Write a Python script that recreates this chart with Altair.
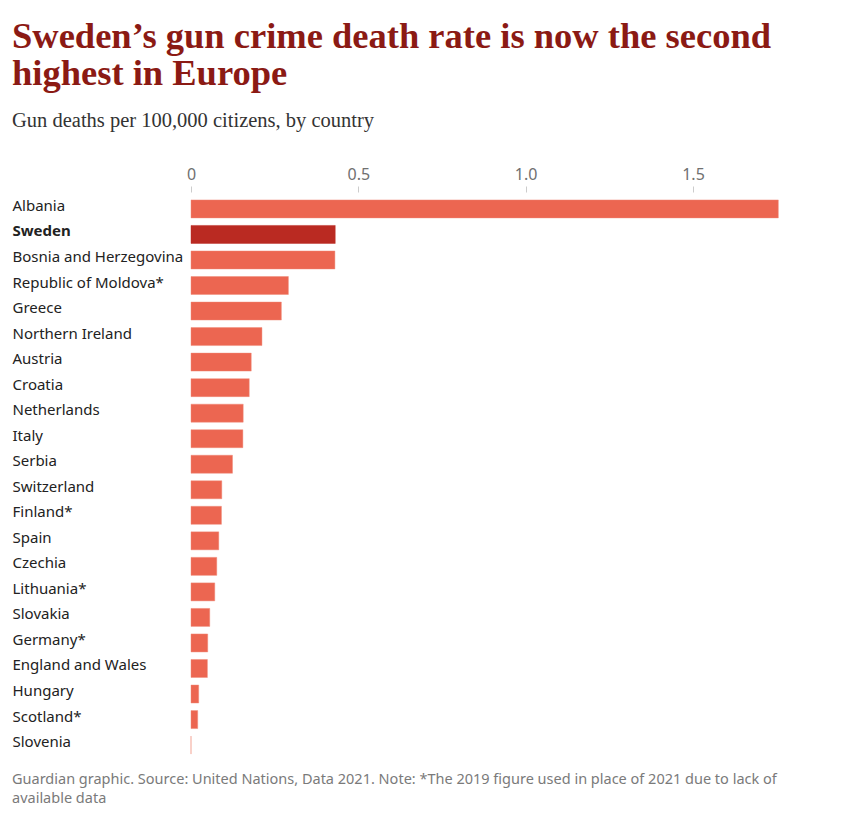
import altair as alt
import pandas as pd

countries = [
    "Albania", "Sweden", "Bosnia and Herzegovina", "Republic of Moldova*", "Greece",
    "Northern Ireland", "Austria", "Croatia", "Netherlands", "Italy", "Serbia",
    "Switzerland", "Finland*", "Spain", "Czechia", "Lithuania*", "Slovakia",
    "Germany*", "England and Wales", "Hungary", "Scotland*", "Slovenia",
]
rates = [
    1.755, 0.431, 0.430, 0.291, 0.270,
    0.212, 0.180, 0.174, 0.156, 0.155, 0.124,
    0.092, 0.091, 0.083, 0.077, 0.071, 0.056,
    0.050, 0.049, 0.023, 0.020, 0.0,
]
x_ticks = [0, 0.5, 1.0, 1.5]
highlight = "Sweden"

title_lines = ["Sweden\u2019s gun crime death rate is now the second", "highest in Europe"]
subtitle = "Gun deaths per 100,000 citizens, by country"
footer_lines = [
    "Guardian graphic. Source: United Nations, Data 2021. Note: *The 2019 figure used in place of 2021 due to lack of",
    "available data",
]

df = pd.DataFrame({"country": countries, "rate": rates})
foot_df = pd.DataFrame({"k": [0]})

W, H = 589, 570

bars = alt.Chart(df).mark_bar(strokeWidth=1, strokeOpacity=0.45).encode(
    y=alt.Y(
        "country:N",
        sort=countries,
        title=None,
        scale=alt.Scale(paddingInner=0.295, paddingOuter=0.31),
        axis=alt.Axis(
            orient="left",
            ticks=False,
            tickSize=0,
            domain=False,
            labelAlign="left",
            labelPadding=179,
            labelOffset=-3,
            labelFont="Noto Sans",
            labelFontSize=15,
            labelColor="#222222",
            labelFontWeight=alt.expr("datum.value == 'Sweden' ? 'bold' : 'normal'"),
            labelLimit=400,
        ),
    ),
    x=alt.X(
        "rate:Q",
        title=None,
        scale=alt.Scale(domain=[0, 1.76], nice=False),
        axis=alt.Axis(
            orient="top",
            values=x_ticks,
            labelExpr="datum.value == 0 ? '0' : format(datum.value, '.1f')",
            labelFlush=False,
            grid=False,
            domain=False,
            tickSize=6,
            tickColor="#cccccc",
            labelPadding=4,
            labelFont="Noto Sans",
            labelFontSize=16,
            labelColor="#707070",
        ),
    ),
    color=alt.condition(
        alt.datum.country == highlight, alt.value("#ba2a22"), alt.value("#ec6651")
    ),
    stroke=alt.condition(
        alt.datum.country == highlight, alt.value("#ba2a22"), alt.value("#f08a78")
    ),
)

footer = alt.Chart(foot_df).mark_text(
    text=footer_lines,
    align="left",
    baseline="alphabetic",
    font="Noto Sans",
    fontSize=14.5,
    lineHeight=19,
    color="#7a7a7a",
).encode(x=alt.value(-179), y=alt.value(H + 22))

chart = alt.layer(bars, footer).properties(
    width=W,
    height=H,
    padding={"left": 12, "top": 19, "right": 10, "bottom": 8},
    title=alt.TitleParams(
        text=title_lines,
        subtitle=subtitle,
        anchor="start",
        frame="bounds",
        font="Liberation Serif",
        fontSize=36.5,
        fontWeight="bold",
        color="#8b1a14",
        lineHeight=37,
        subtitleFont="Liberation Serif",
        subtitleFontSize=20.5,
        subtitleColor="#333333",
        subtitlePadding=18,
        offset=35,
    ),
).configure_view(stroke=None)

chart.save("out.html", embed_options={"renderer": "svg", "actions": False})
